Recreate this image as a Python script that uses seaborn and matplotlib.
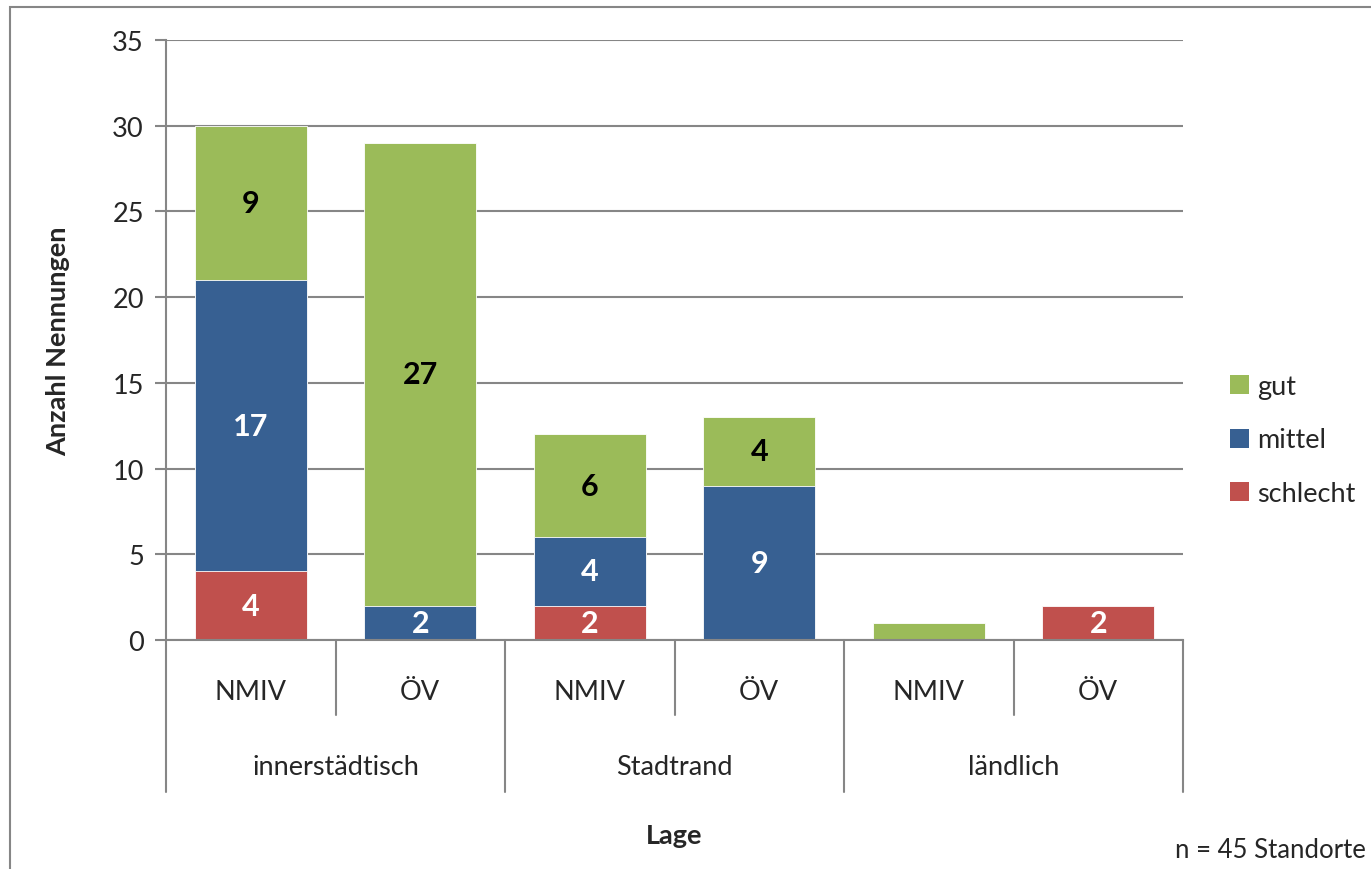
import matplotlib
matplotlib.use("Agg")
import matplotlib.pyplot as plt
import seaborn as sns
import numpy as np
import pandas as pd
from matplotlib.patches import Patch, Rectangle

# ---- data ----
groups = ["innerstädtisch", "Stadtrand", "ländlich"]
modes = ["NMIV", "ÖV"]
bar_ids = ["innerstädtisch NMIV", "innerstädtisch ÖV", "Stadtrand NMIV",
           "Stadtrand ÖV", "ländlich NMIV", "ländlich ÖV"]
schlecht = [4, 0, 2, 0, 0, 2]
mittel = [17, 2, 4, 9, 0, 0]
gut = [9, 27, 6, 4, 1, 0]
series_names = ["gut", "mittel", "schlecht"]
colors = {"gut": "#9BBB59", "mittel": "#376092", "schlecht": "#C0504D"}
label_colors = {"gut": "black", "mittel": "white", "schlecht": "white"}

sns.set_style("white")
plt.rcParams["font.family"] = ["Lato", "DejaVu Sans"]

FS = 19.5
W, H = 1371, 870
fig = plt.figure(figsize=(W / 100, H / 100), dpi=100)
ax_left, ax_right, ax_top, ax_bot = 166, 1183, 41, 641
ax = fig.add_axes([ax_left / W, (H - ax_bot) / H, (ax_right - ax_left) / W, (ax_bot - ax_top) / H])

df = pd.DataFrame({"bar": bar_ids, "schlecht": schlecht, "mittel": mittel, "gut": gut})
df["c_schlecht"] = df["schlecht"]
df["c_mittel"] = df["schlecht"] + df["mittel"]
df["c_gut"] = df["c_mittel"] + df["gut"]

gray = "#868686"
ax.set_axisbelow(True)
for name, col in [("gut", "c_gut"), ("mittel", "c_mittel"), ("schlecht", "c_schlecht")]:
    sns.barplot(data=df, x="bar", y=col, order=bar_ids, color=colors[name],
                width=0.66, saturation=1, edgecolor="white", linewidth=0.6, ax=ax)

# data labels
bottoms = np.zeros(len(bar_ids))
for name, vals in [("schlecht", schlecht), ("mittel", mittel), ("gut", gut)]:
    for i, v in enumerate(vals):
        if v >= 2:
            ax.text(i, bottoms[i] + v / 2, str(v), ha="center", va="center",
                    fontsize=22, fontweight="bold", color=label_colors[name])
    bottoms += np.array(vals)

ax.set_xlim(-0.5, len(bar_ids) - 0.5)
ax.set_ylim(0, 35)
ax.set_yticks(range(0, 36, 5))
ax.tick_params(axis="y", labelsize=FS, length=8, width=1.5, color=gray, pad=8, left=True)
ax.yaxis.grid(True, color=gray, linewidth=1.5)
ax.xaxis.grid(False)
ax.set_xticks([])
ax.set_xlabel("")
ax.set_ylabel("Anzahl Nennungen", fontsize=FS, fontweight="bold")
ax.yaxis.set_label_coords(-0.094, 0.5)
for s in ["top", "right"]:
    ax.spines[s].set_visible(False)
for s in ["left", "bottom"]:
    ax.spines[s].set_color(gray)
    ax.spines[s].set_linewidth(1.5)

# multi-level category axis
trans = ax.get_xaxis_transform()
short_y = -75 / 600
long_y = -152 / 600
for b in np.arange(-0.5, len(bar_ids), 1.0):
    idx = int(b + 0.5)
    y_end = long_y if idx % 2 == 0 else short_y
    ax.plot([b, b], [0, y_end], transform=trans, color=gray, lw=1.5, clip_on=False)
for i, bid in enumerate(bar_ids):
    ax.text(i, -52 / 600, modes[i % 2], transform=trans, ha="center", va="center", fontsize=FS)
for g, name in enumerate(groups):
    ax.text(2 * g + 0.5, -127 / 600, name, transform=trans, ha="center", va="center", fontsize=FS)
ax.text(0.5, -195 / 600, "Lage", transform=ax.transAxes, ha="center", va="center",
        fontsize=FS, fontweight="bold")

# legend
handles = [Patch(facecolor=colors[n], edgecolor="none") for n in series_names]
leg = fig.legend(handles, series_names, loc="center left",
                 bbox_to_anchor=(1230 / W, (H - 441) / H), bbox_transform=fig.transFigure,
                 frameon=False, fontsize=FS, handlelength=0.7, handleheight=0.7,
                 handletextpad=0.3, labelspacing=1.05, borderpad=0, borderaxespad=0)

fig.text(1366 / W, (H - 851) / H, "n = 45 Standorte", ha="right", va="center", fontsize=18.5)

# outer chart frame
fig.patches.append(Rectangle((10 / W, -0.1), 1.2, (H - 8) / H + 0.1, transform=fig.transFigure,
                             fill=False, edgecolor=gray, linewidth=1.5, zorder=-1))

fig.savefig("out.png", dpi=100)
